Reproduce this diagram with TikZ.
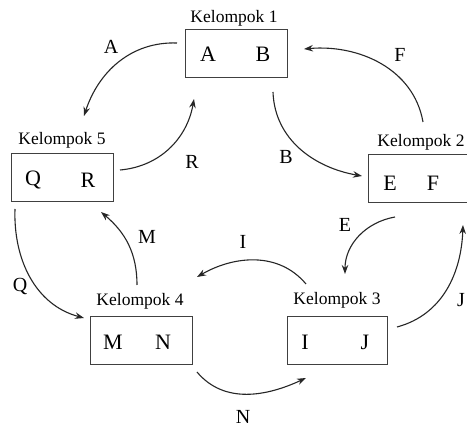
\documentclass[tikz,border=0pt]{standalone}
\usepackage{fontspec}
\setmainfont{Liberation Serif}
\usetikzlibrary{arrows.meta}
\begin{document}
\begin{tikzpicture}[x=1pt,y=1pt,
  box/.style={draw=black!75, line width=1pt, minimum width=102pt, minimum height=48pt, inner sep=0pt},
  title/.style={font=\fontsize{17.5}{20}\selectfont, inner sep=0pt},
  letter/.style={font=\fontsize{22}{25}\selectfont, inner sep=0pt},
  lbl/.style={font=\fontsize{20}{23}\selectfont, inner sep=0pt},
  arr/.style={draw=black!85, line width=1.1pt, -{Stealth[length=9pt,width=6.5pt]}}]
\useasboundingbox (0,0) rectangle (467,-427);
\fill[white] (0,0) rectangle (467,-427);
% boxes
\node[box] (k1) at (236,-53.5) {};
\node[box] (k5) at (62,-178) {};
\node[box] (k2) at (419,-179) {};
\node[box] (k4) at (141,-340.5) {};
\node[box, minimum width=100pt] (k3) at (337,-340.5) {};
% titles
\node[title] (t1) at (234,-18) {Kelompok 1};
\node[title] (t5) at (62,-140) {Kelompok 5};
\node[title] (t2) at (421,-142) {Kelompok 2};
\node[title] (t4) at (140,-301) {Kelompok 4};
\node[title] (t3) at (337,-300) {Kelompok 3};
% letters in boxes
\node[letter] (bA) at (208,-54) {A};
\node[letter] (bB) at (263,-54) {B};
\node[letter] (bQ) at (33,-180) {Q};
\node[letter] (bR) at (88,-180) {R};
\node[letter] (bE) at (390,-183) {E};
\node[letter] (bF) at (433,-183) {F};
\node[letter] (bM) at (113,-342) {M};
\node[letter] (bN) at (163,-342) {N};
\node[letter] (bI) at (305,-342) {I};
\node[letter] (bJ) at (365,-342) {J};
% arrow end points
\coordinate (As) at (177,-43);  \coordinate (Ae) at (84,-116);
\coordinate (Rs) at (120,-170); \coordinate (Re) at (194,-99);
\coordinate (Fs) at (423,-122); \coordinate (Fe) at (304,-49);
\coordinate (Bs) at (273,-92);  \coordinate (Be) at (362,-176);
\coordinate (Es) at (395,-217); \coordinate (Ee) at (345,-274);
\coordinate (Js) at (397,-327); \coordinate (Je) at (463,-225);
\coordinate (Is) at (306,-284); \coordinate (Ie) at (197,-277);
\coordinate (Ms) at (137,-285); \coordinate (Me) at (101,-212);
\coordinate (Qs) at (15,-209);  \coordinate (Qe) at (84,-318);
\coordinate (Ns) at (197,-372); \coordinate (Ne) at (306,-378);
% arrows
\draw[arr] (As) to[out=178,in=72] (Ae);
\draw[arr] (Rs) to[out=5,in=-100] (Re);
\draw[arr] (Fs) to[out=100,in=5] (Fe);
\draw[arr] (Bs) to[out=-88,in=170] (Be);
\draw[arr] (Es) to[out=190,in=90] (Ee);
\draw[arr] (Js) to[out=15,in=-92] (Je);
\draw[arr] (Is) to[out=130,in=30] (Ie);
\draw[arr] (Ms) to[out=90,in=-40] (Me);
\draw[arr] (Qs) to[out=-92,in=165] (Qe);
\draw[arr] (Ns) to[out=-50,in=-155] (Ne);
% arrow labels
\node[lbl] (lA) at (111,-47) {A};
\node[lbl] (lR) at (192,-162) {R};
\node[lbl] (lF) at (400,-55) {F};
\node[lbl] (lB) at (286,-157) {B};
\node[lbl] (lE) at (345,-225) {E};
\node[lbl] (lJ) at (461,-300) {J};
\node[lbl] (lI) at (243,-242) {I};
\node[lbl] (lM) at (147,-237) {M};
\node[lbl] (lQ) at (20,-287) {Q};
\node[lbl] (lN) at (243,-417) {N};
\end{tikzpicture}
\end{document}
